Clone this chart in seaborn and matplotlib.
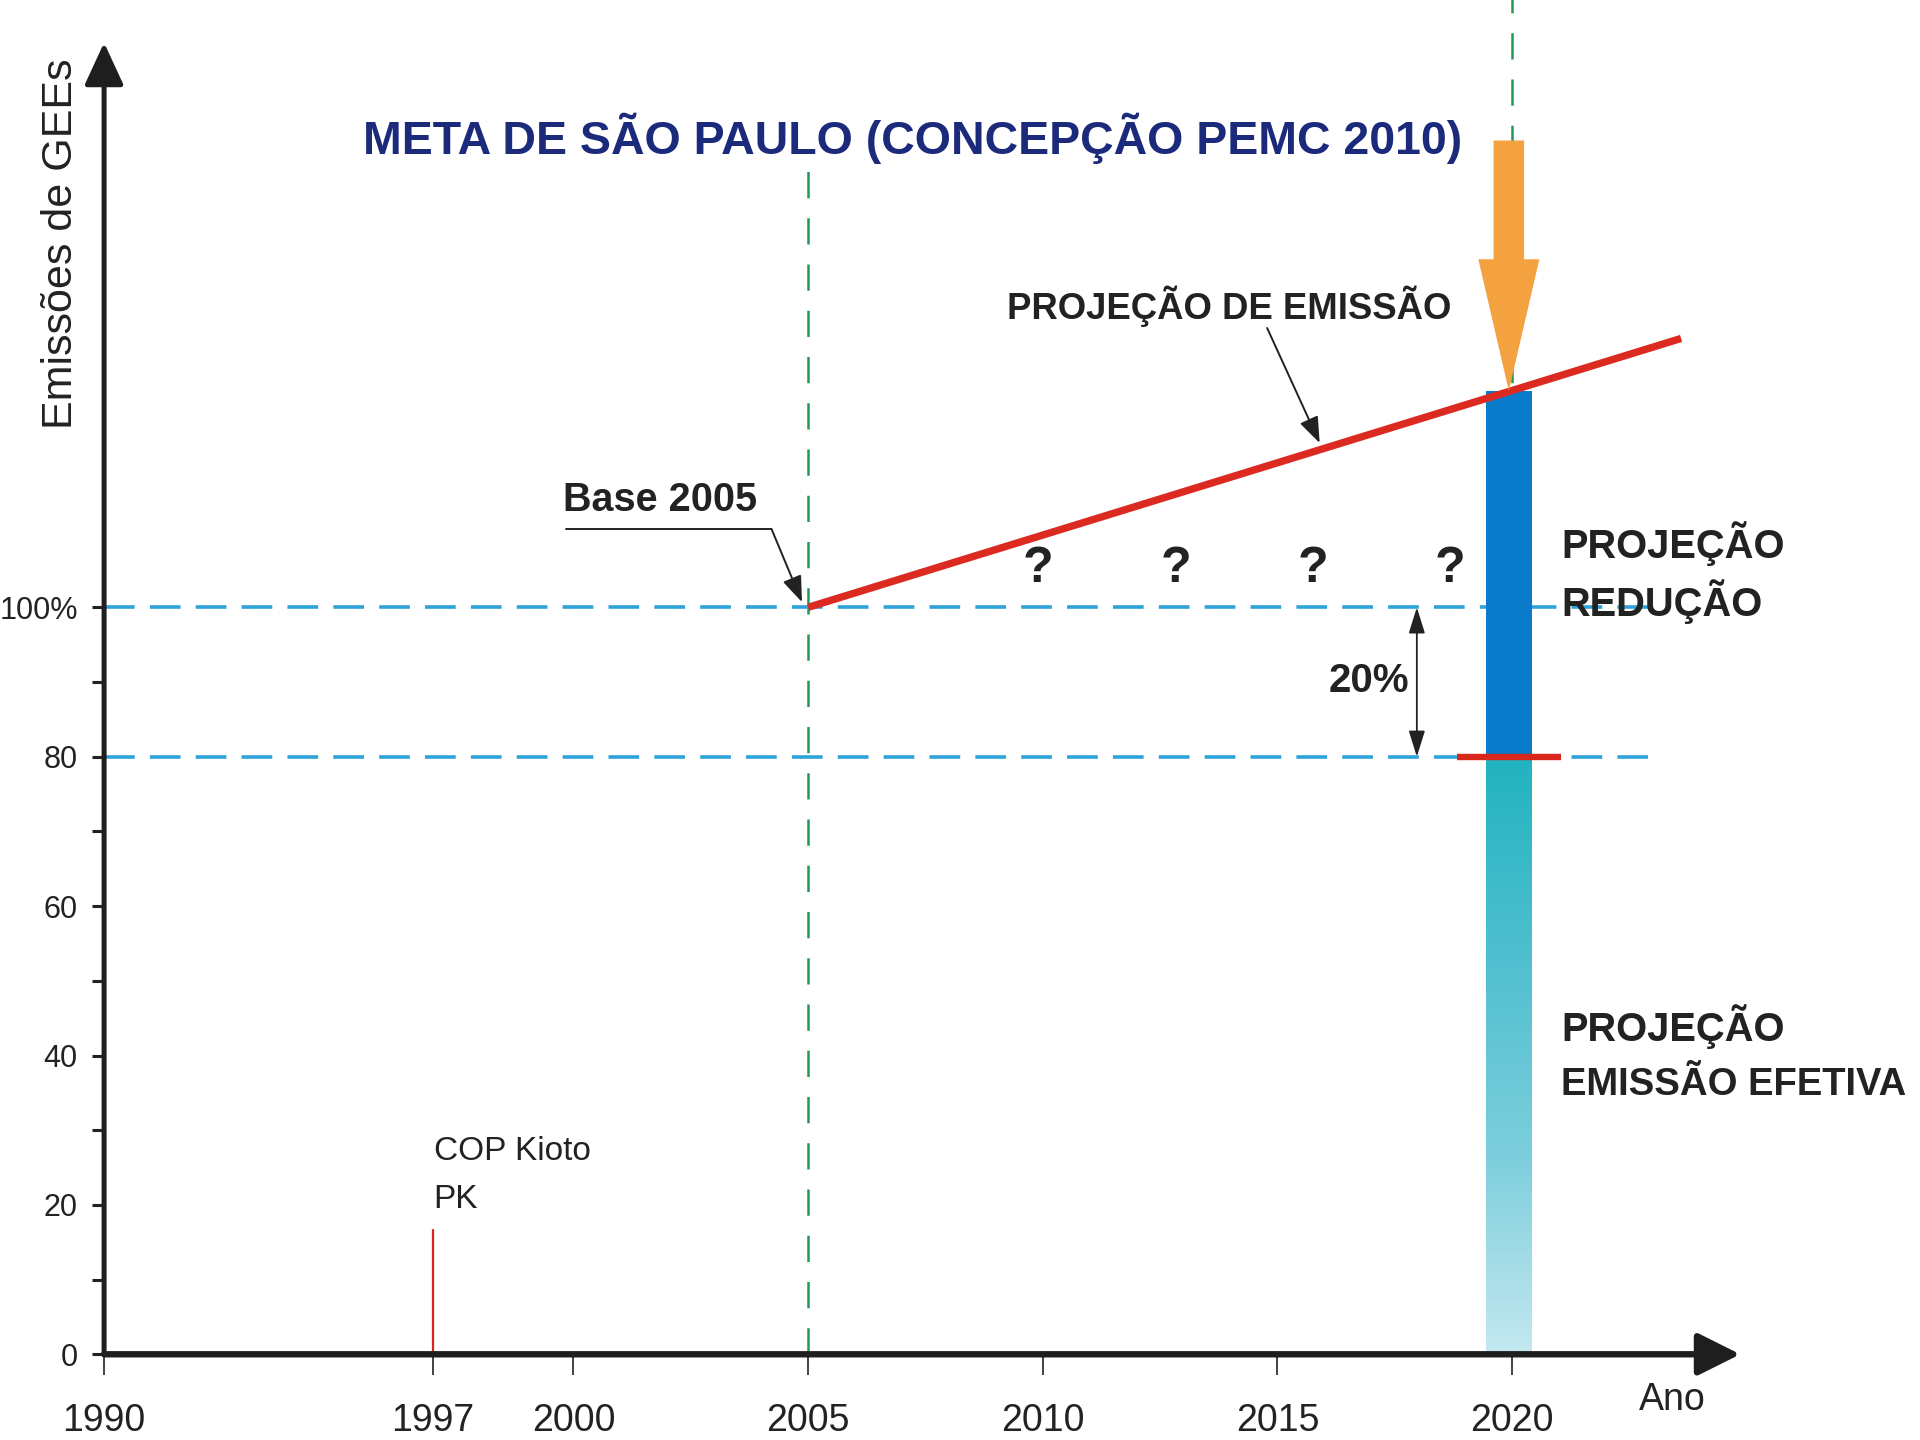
import numpy as np
import pandas as pd
import matplotlib
matplotlib.use("Agg")
import matplotlib.pyplot as plt
from matplotlib.colors import LinearSegmentedColormap
from matplotlib.patches import FancyArrow
import seaborn as sns

# ---------------- data ----------------
x_ticks = [1990, 1997, 2000, 2005, 2010, 2015, 2020]
y_ticks = [0, 20, 40, 60, 80, 100]
y_ticklabels = ["0", "20", "40", "60", "80", "100%"]
y_minor = [10, 30, 50, 70, 90]

proj_years = [2005, 2023.6]
proj_values = [100, 136]

base_year = 2005
target_year = 2020
base_value = 100
target_value = 80
bar_top = 129
kyoto_year = 1997
kyoto_height = 16.6
question_years = [2009.9, 2012.83, 2015.75, 2018.67]

# ---------------- fonts ----------------
FONT = "Liberation Sans"
sns.set_style("white")
plt.rcParams["font.family"] = [FONT, "DejaVu Sans"]

fig = plt.figure(figsize=(19.2, 14.4), dpi=100)
ax = fig.add_axes([85 / 1568, 70 / 1176, 35 * 38.33 / 1568, 175 * 6.1 / 1176])
ax.set_xlim(1990, 2025)
ax.set_ylim(0, 175)
for s in ax.spines.values():
    s.set_visible(False)

# ticks
ax.set_xticks(x_ticks)
ax.set_xticklabels([str(v) for v in x_ticks], fontsize=27, color="#222222")
ax.set_yticks(y_ticks)
ax.set_yticklabels(y_ticklabels, fontsize=22, color="#222222")
ax.set_yticks(y_minor, minor=True)
ax.tick_params(axis="x", direction="out", length=15, width=1.2, color="#222222", pad=20, bottom=True)
ax.tick_params(axis="y", which="both", direction="out", length=9, width=2.2, color="#222222", pad=10, left=True)

# axis arrows
ax.annotate("", xy=(2024.86, 0), xytext=(1990, 0), annotation_clip=False,
            arrowprops=dict(arrowstyle="-|>,head_length=2.6,head_width=1.3", lw=4.6,
                            color="#1e1e1e", shrinkA=0, shrinkB=0, mutation_scale=10), zorder=6)
ax.annotate("", xy=(1990, 175.6), xytext=(1990, 0), annotation_clip=False,
            arrowprops=dict(arrowstyle="-|>,head_length=2.6,head_width=1.2", lw=3.6,
                            color="#1e1e1e", shrinkA=0, shrinkB=0, mutation_scale=10), zorder=6)

# dashed reference lines (blue)
blue_dash = "#2ea3da"
for v in (base_value, target_value):
    ax.plot([1990, 2022.9], [v, v], color=blue_dash, lw=2.6, dashes=(8.5, 4.2), zorder=2, clip_on=False)

# green dashed verticals
green = "#1f9a55"
ax.plot([base_year, base_year], [0, 161], color=green, lw=1.8, dashes=(10.5, 8), zorder=1, clip_on=False)
ax.plot([target_year, target_year], [0, 181.5], color=green, lw=1.8, dashes=(10.5, 8), zorder=1, clip_on=False)

# bar at 2020 - reduction part (solid blue)
bw = 0.97
ax.bar([target_year - 0.07], [bar_top - target_value], bottom=target_value, width=bw,
       color="#0a7bcb", zorder=3, linewidth=0)
# lower part: effective emission (gradient)
grad_cmap = LinearSegmentedColormap.from_list("grad", ["#c4e8f0", "#7ccedc", "#4fbfcf", "#22b3c0"])
grad = np.linspace(0, 1, 256).reshape(-1, 1)
ax.imshow(grad, cmap=grad_cmap, origin="lower", aspect="auto",
          extent=[target_year - 0.07 - bw / 2, target_year - 0.07 + bw / 2, 0, target_value], zorder=3)
ax.set_xlim(1990, 2025)
ax.set_ylim(0, 175)

# red target marker at 80
ax.plot([2018.83, 2021.05], [target_value, target_value], color="#d8281e", lw=4.6,
        solid_capstyle="butt", zorder=5, clip_on=False)

# projection line (seaborn)
proj_df = pd.DataFrame({"ano": proj_years, "emissao": proj_values})
sns.lineplot(data=proj_df, x="ano", y="emissao", ax=ax, color="#dc2a20", lw=5.3, zorder=4,
             solid_capstyle="butt")
ax.set_xlabel("")
ax.set_ylabel("")

# Kyoto marker
ax.plot([kyoto_year, kyoto_year], [0, kyoto_height], color="#e0221c", lw=1.6, zorder=4)
ax.text(1997.02, 27.2, "COP Kioto", fontsize=24, color="#222222", ha="left", va="center")
ax.text(1997.02, 20.7, "PK", fontsize=24, color="#222222", ha="left", va="center")

# orange arrow
arrow = FancyArrow(target_year - 0.07, 162.5, 0, bar_top - 162.5, width=0.65, head_width=1.3,
                   head_length=17.6, length_includes_head=True, color="#f4a140", lw=0, zorder=5)
ax.add_patch(arrow)

# title
ax.text(2007.22, 162.8, "META DE SÃO PAULO (CONCEPÇÃO PEMC 2010)", fontsize=33.5,
        fontweight="bold", color="#1c2a7c", ha="center", va="center")

# labels
bold_kw = dict(fontweight="bold", color="#222222")
ax.text(2009.23, 140.3, "PROJEÇÃO DE EMISSÃO", fontsize=26.3, ha="left", va="center", **bold_kw)
ax.annotate("", xy=(2015.9, 122.0), xytext=(2014.78, 137.4),
            arrowprops=dict(arrowstyle="-|>,head_length=0.8,head_width=0.3", lw=1.4,
                            color="#222222", shrinkA=0, shrinkB=0, mutation_scale=20))

ax.text(1999.78, 114.4, "Base 2005", fontsize=28.5, ha="left", va="center", **bold_kw)
ax.plot([1999.84, 2004.22], [110.5, 110.5], color="#222222", lw=1.4)
ax.annotate("", xy=(2004.87, 100.7), xytext=(2004.22, 110.5),
            arrowprops=dict(arrowstyle="-|>,head_length=0.8,head_width=0.3", lw=1.4,
                            color="#222222", shrinkA=0, shrinkB=0, mutation_scale=20))

for qy in question_years:
    ax.text(qy, 105.1, "?", fontsize=36, ha="center", va="center", **bold_kw)

ax.text(2016.95, 90.2, "20%", fontsize=29, ha="center", va="center", **bold_kw)
ax.annotate("", xy=(2017.97, target_value), xytext=(2017.97, base_value),
            arrowprops=dict(arrowstyle="<|-|>,head_length=0.8,head_width=0.25", lw=1.3,
                            color="#222222", shrinkA=0, shrinkB=0, mutation_scale=20))

ax.text(2021.05, 108.5, "PROJEÇÃO", fontsize=28.7, ha="left", va="center", clip_on=False, **bold_kw)
ax.text(2021.05, 100.8, "REDUÇÃO", fontsize=28.7, ha="left", va="center", clip_on=False, **bold_kw)
ax.text(2021.05, 43.9, "PROJEÇÃO", fontsize=28.7, ha="left", va="center", clip_on=False, **bold_kw)
ax.text(2021.05, 36.1, "EMISSÃO EFETIVA", fontsize=27.5, ha="left", va="center", clip_on=False, **bold_kw)

ax.text(2023.42, -6.07, "Ano", fontsize=27, ha="center", va="center", color="#222222", clip_on=False)
ax.text(1989.09, 148.7, "Emissões de GEEs", fontsize=31, rotation=90, ha="center", va="center",
        color="#222222", clip_on=False)

fig.savefig("out.png", dpi=100)
